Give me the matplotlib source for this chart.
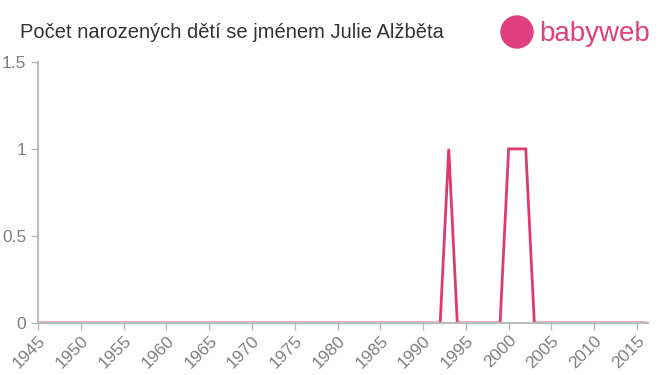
import matplotlib.pyplot as plt
from matplotlib.patches import Ellipse

plt.rcParams['font.family'] = ['Liberation Sans', 'DejaVu Sans']

# years 1945 - 2016
years = list(range(1945, 2017))
counts = [0, 0, 0, 0, 0, 0, 0, 0, 0, 0,   # 1945-1954
          0, 0, 0, 0, 0, 0, 0, 0, 0, 0,   # 1955-1964
          0, 0, 0, 0, 0, 0, 0, 0, 0, 0,   # 1965-1974
          0, 0, 0, 0, 0, 0, 0, 0, 0, 0,   # 1975-1984
          0, 0, 0, 0, 0, 0, 0, 0, 1, 0,   # 1985-1994
          0, 0, 0, 0, 0, 1, 1, 1, 0, 0,   # 1995-2004
          0, 0, 0, 0, 0, 0, 0, 0, 0, 0,   # 2005-2014
          0, 0]                           # 2015-2016
xticks = list(range(1945, 2016, 5))
yticks = [0, 0.5, 1, 1.5]
ylabels = ["0", "0.5", "1", "1.5"]

fig = plt.figure(figsize=(6.6, 3.75), dpi=100)
ax = fig.add_axes([0.0576, 0.1387, 0.9244, 0.6963])

ax.plot(years, counts, color='#e0396b', linewidth=2, solid_joinstyle='miter')

ax.set_xlim(1945, 2016.3)
ax.set_ylim(0, 1.5)
ax.set_xticks(xticks)
ax.set_xticklabels([str(y) for y in xticks], rotation=45, ha='right',
                   rotation_mode='anchor', fontsize=12.5, color='#808080')
ax.set_yticks(yticks)
ax.set_yticklabels(ylabels, fontsize=12.5, color='#808080')
ax.tick_params(axis='both', color='#bbbbbb', length=5, width=1)
ax.tick_params(axis='x', pad=2)

for s in ['top', 'right']:
    ax.spines[s].set_visible(False)
for s in ['left', 'bottom']:
    ax.spines[s].set_color('#bbbbbb')
    ax.spines[s].set_linewidth(1.5)

fig.text(0.03, 0.912, "Počet narozených dětí se jménem Julie Alžběta",
         fontsize=14.5, color='#333333', va='center')

# babyweb logo
logo_col = '#e0407f'
circ = Ellipse((517 / 660, 1 - 32 / 375), 32 / 660, 32 / 375,
               transform=fig.transFigure, color=logo_col, clip_on=False)
fig.patches.append(circ)
fig.text(539 / 660, 1 - 34 / 375, "babyweb", fontsize=20, color=logo_col,
         va='center')

fig.savefig("out.png", dpi=100)
